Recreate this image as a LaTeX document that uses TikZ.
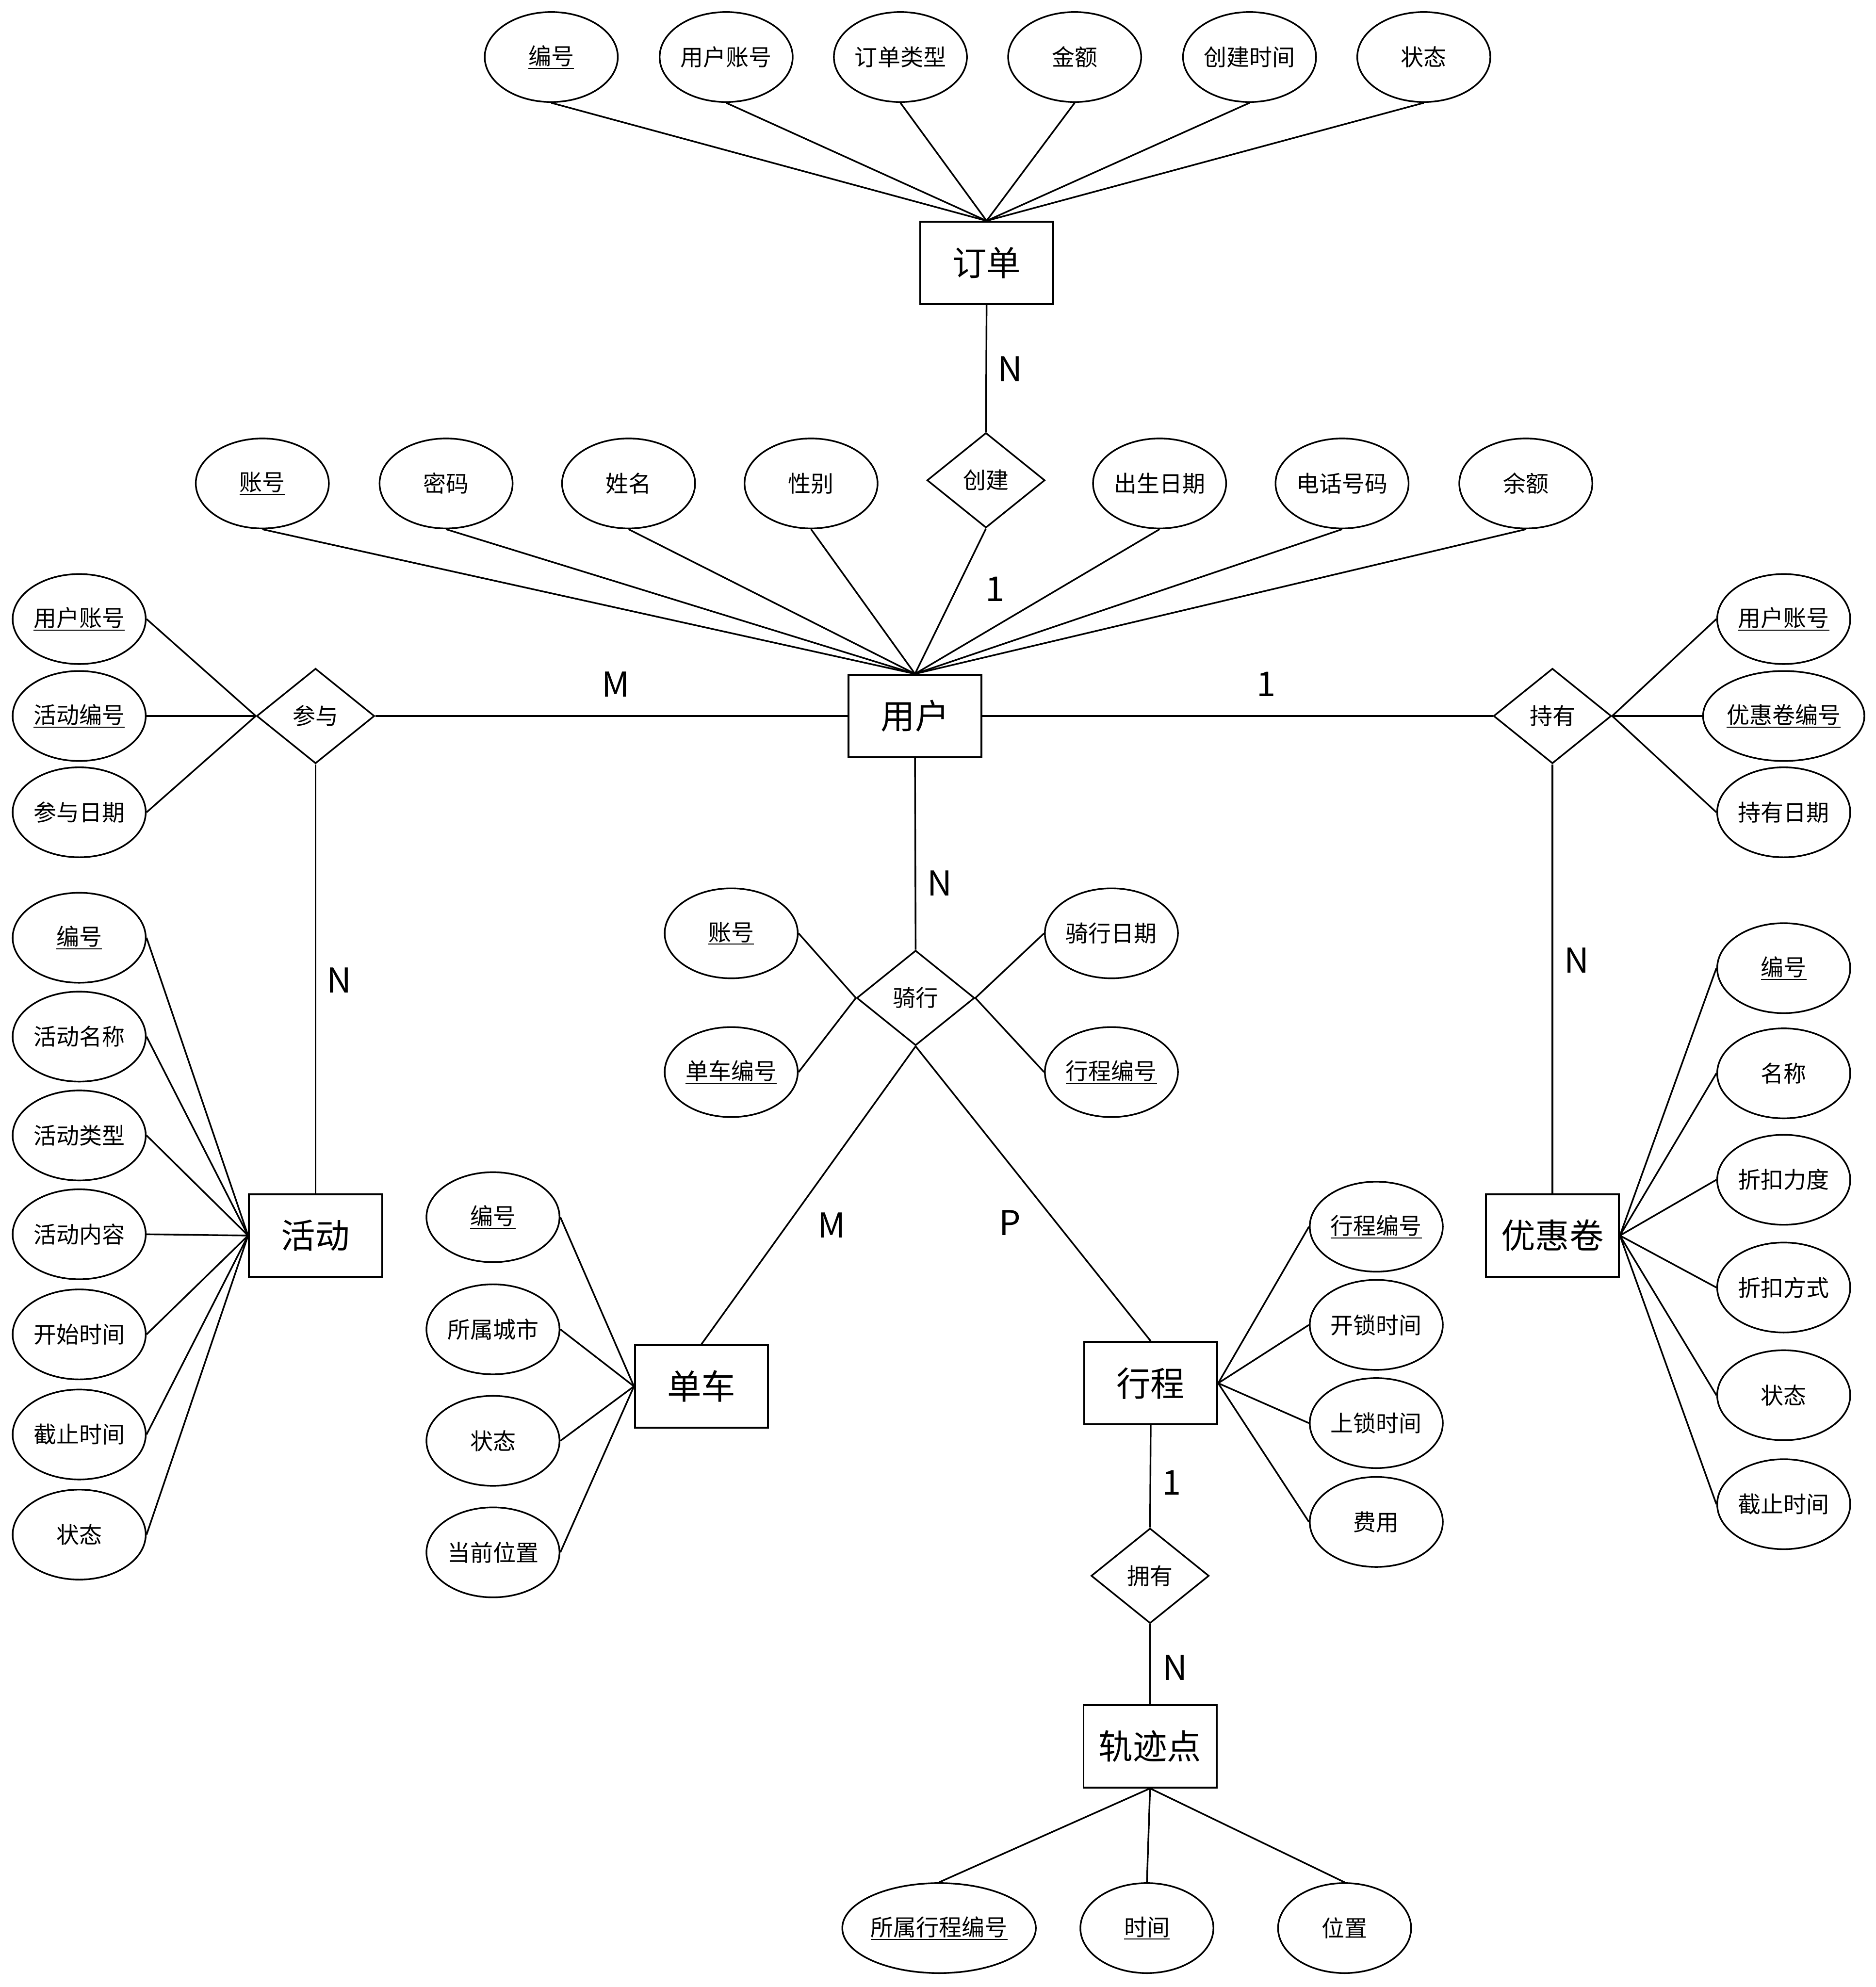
\documentclass[tikz,border=0pt]{standalone}
\usepackage{fontspec}
\setmainfont{Noto Sans CJK SC}
\usetikzlibrary{shapes.geometric}
\newsavebox\ulbox
\newcommand\ulx[1]{\sbox\ulbox{#1}\rlap{\rule[-3.2pt]{\wd\ulbox}{0.8pt}}\usebox\ulbox}
\tikzset{
  attr/.style={ellipse, draw, line width=1.3pt, minimum width=105pt, minimum height=71pt, inner sep=0pt, font=\fontsize{18}{20}\selectfont},
  ent/.style={rectangle, draw, line width=1.5pt, minimum width=105pt, minimum height=65pt, inner sep=0pt, font=\fontsize{27}{30}\selectfont},
  rel/.style={diamond, draw, line width=1.3pt, minimum width=93pt, minimum height=75pt, inner sep=0pt, font=\fontsize{18}{20}\selectfont},
  card/.style={inner sep=0pt, font=\fontsize{27}{30}\selectfont},
  link/.style={line width=1.3pt},
}
\begin{document}
\begin{tikzpicture}[x=1pt,y=-1pt]
\useasboundingbox (0,0) rectangle (1480,1568);
% entities and relations
\node[ent] (order) at (778.5,207.5) {订单};
\node[rel] (create) at (778,379) {创建};
\node[ent] (user) at (722,565) {用户};
\node[rel] (join) at (249,565) {参与};
\node[ent] (act) at (249,975) {活动};
\node[rel] (hold) at (1225,565) {持有};
\node[ent] (coupon) at (1225,975) {优惠卷};
\node[rel] (ride) at (722.5,787.5) {骑行};
\node[ent] (bike) at (553.5,1094) {单车};
\node[ent] (trip) at (908,1091.5) {行程};
\node[rel] (own) at (907.5,1243.5) {拥有};
\node[ent] (tp) at (907.5,1378) {轨迹点};
% order attributes
\node[attr] (o1) at (435,45) {\ulx{编号}};
\node[attr] (o2) at (573,45) {用户账号};
\node[attr] (o3) at (710.5,45) {订单类型};
\node[attr] (o4) at (848,45) {金额};
\node[attr] (o5) at (986,45) {创建时间};
\node[attr] (o6) at (1123.5,45) {状态};
% user attributes
\node[attr] (u1) at (207,381.5) {\ulx{账号}};
\node[attr] (u2) at (352,381.5) {密码};
\node[attr] (u3) at (496,381.5) {姓名};
\node[attr] (u4) at (640,381.5) {性别};
\node[attr] (u5) at (915,381.5) {出生日期};
\node[attr] (u6) at (1059,381.5) {电话号码};
\node[attr] (u7) at (1204,381.5) {余额};
% join attributes
\node[attr] (j1) at (62.5,488.5) {\ulx{用户账号}};
\node[attr] (j2) at (62.5,565) {\ulx{活动编号}};
\node[attr] (j3) at (62.5,641) {参与日期};
% activity attributes
\node[attr] (a1) at (62.5,740) {\ulx{编号}};
\node[attr] (a2) at (62.5,818) {活动名称};
\node[attr] (a3) at (62.5,896) {活动类型};
\node[attr] (a4) at (62.5,974) {活动内容};
\node[attr] (a5) at (62.5,1053) {开始时间};
\node[attr] (a6) at (62.5,1132) {截止时间};
\node[attr] (a7) at (62.5,1211) {状态};
% hold attributes
\node[attr] (h1) at (1407.5,488.5) {\ulx{用户账号}};
\node[attr, minimum width=125pt] (h2) at (1407.5,565) {\ulx{优惠卷编号}};
\node[attr] (h3) at (1407.5,641) {持有日期};
% coupon attributes
\node[attr] (c1) at (1407.5,764) {\ulx{编号}};
\node[attr] (c2) at (1407.5,847) {名称};
\node[attr] (c3) at (1407.5,931) {折扣力度};
\node[attr] (c4) at (1407.5,1016) {折扣方式};
\node[attr] (c5) at (1407.5,1101) {状态};
\node[attr] (c6) at (1407.5,1187) {截止时间};
% ride attributes
\node[attr] (r1) at (577,736.5) {\ulx{账号}};
\node[attr] (r2) at (577,846) {\ulx{单车编号}};
\node[attr] (r3) at (877,736.5) {骑行日期};
\node[attr] (r4) at (877,846) {\ulx{行程编号}};
% bike attributes
\node[attr] (b1) at (389,960.5) {\ulx{编号}};
\node[attr] (b2) at (389,1049) {所属城市};
\node[attr] (b3) at (389,1137) {状态};
\node[attr] (b4) at (389,1225) {当前位置};
% trip attributes
\node[attr] (t1) at (1086,968) {\ulx{行程编号}};
\node[attr] (t2) at (1086,1045.5) {开锁时间};
\node[attr] (t3) at (1086,1123) {上锁时间};
\node[attr] (t4) at (1086,1201) {费用};
% track point attributes
\node[attr, minimum width=152pt] (p1) at (741,1521.5) {\ulx{所属行程编号}};
\node[attr] (p2) at (905,1521.5) {\ulx{时间}};
\node[attr] (p3) at (1061,1521.5) {位置};
% connectors
\foreach \n in {o1,o2,o3,o4,o5,o6} \draw[link] (\n.south) -- (order.north);
\foreach \n in {u1,u2,u3,u4,u5,u6,u7} \draw[link] (\n.south) -- (user.north);
\draw[link] (order.south) -- (create.north);
\draw[link] (create.south) -- (user.north);
\draw[link] (user.west) -- (join.east);
\draw[link] (join.south) -- (act.north);
\foreach \n in {j1,j2,j3} \draw[link] (\n.east) -- (join.west);
\foreach \n in {a1,a2,a3,a4,a5,a6,a7} \draw[link] (\n.east) -- (act.west);
\draw[link] (user.east) -- (hold.west);
\draw[link] (hold.south) -- (coupon.north);
\foreach \n in {h1,h2,h3} \draw[link] (hold.east) -- (\n.west);
\foreach \n in {c1,c2,c3,c4,c5,c6} \draw[link] (coupon.east) -- (\n.west);
\draw[link] (user.south) -- (ride.north);
\draw[link] (ride.south) -- (bike.north);
\draw[link] (ride.south) -- (trip.north);
\draw[link] (r1.east) -- (ride.west);
\draw[link] (r2.east) -- (ride.west);
\draw[link] (ride.east) -- (r3.west);
\draw[link] (ride.east) -- (r4.west);
\foreach \n in {b1,b2,b3,b4} \draw[link] (\n.east) -- (bike.west);
\foreach \n in {t1,t2,t3,t4} \draw[link] (trip.east) -- (\n.west);
\draw[link] (trip.south) -- (own.north);
\draw[link] (own.south) -- (tp.north);
\foreach \n in {p1,p2,p3} \draw[link] (tp.south) -- (\n.north);
% cardinalities
\node[card] (k1) at (797,291) {N};
\node[card] (k2) at (785,465) {1};
\node[card] (k3) at (486,540) {M};
\node[card] (k4) at (999,540) {1};
\node[card] (k5) at (741.5,697) {N};
\node[card] (k6) at (267.5,773.5) {N};
\node[card] (k7) at (1244,758) {N};
\node[card] (k8) at (656,967) {M};
\node[card] (k9) at (797,965) {P};
\node[card] (k10) at (924.5,1170) {1};
\node[card] (k11) at (927,1316) {N};
\end{tikzpicture}
\end{document}
